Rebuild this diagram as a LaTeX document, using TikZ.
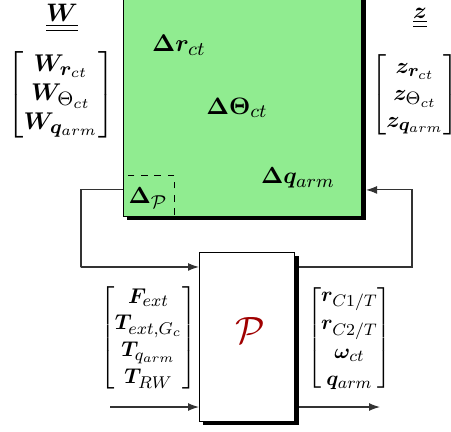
\documentclass[tikz,border=0pt]{standalone}
\usepackage{amsmath}
\usepackage{bm}
\usepackage{graphicx}
\DeclareMathSizes{10}{10}{7.6}{5.6}
\usetikzlibrary{arrows.meta,shadows}
\definecolor{boxgreen}{RGB}{144,236,144}
\definecolor{pred}{RGB}{160,0,0}
\begin{document}
\begin{tikzpicture}[x=0.4545pt,y=-0.4545pt,
  blk/.style={draw=black, line width=0.45pt, inner sep=0pt,
    drop shadow={shadow xshift=1.8pt, shadow yshift=-1.8pt, fill=black, opacity=1}},
  conn/.style={draw=black!80, line width=0.5pt},
  arr/.style={conn, -{Latex[length=5pt,width=3.6pt]}},
  lbl/.style={inner sep=0pt}]
\useasboundingbox (0,0) rectangle (451,431);
% blocks
\node[blk, fill=boxgreen, anchor=south west, minimum width=108.2pt, minimum height=104.5pt] (D) at (123,217) {};
\node[blk, fill=white, anchor=north west, minimum width=43.2pt, minimum height=76.8pt] (P) at (199,252) {};
% dashed Delta_P box
\node[draw=black, dashed, line width=0.45pt, inner sep=0pt, anchor=south west, minimum width=23.2pt, minimum height=18.6pt] (DP) at (123,217) {};
% texts in green block
\node[lbl] (t1) at (179,45) {\scalebox{1.1}{$\bm{\Delta}\bm{r}_{ct}$}};
\node[lbl] (t2) at (237,108) {\scalebox{1.08}{$\bm{\Delta}\bm{\Theta}_{ct}$}};
\node[lbl] (t3) at (298,178) {\scalebox{1.06}{$\bm{\Delta}\bm{q}_{arm}$}};
\node[lbl] (t4) at (148,198) {\scalebox{1.06}{$\bm{\Delta}_{\mathcal{P}}$}};
% P
\node[lbl, text=pred] (Pl) at (250,330) {\LARGE$\mathcal{P}$};
% W and z
\node[lbl] (Wl) at (62,18) {\scalebox{1.15}{$\underline{\underline{\bm{W}}}$}};
\node[lbl] (zl) at (420,18) {\scalebox{1.05}{$\underline{\underline{\bm{z}}}$}};
\node[lbl] (Wm) at (61,95) {\scalebox{1.1}{$\begin{bmatrix}\bm{W}_{\bm{r}_{ct}}\\ \bm{W}_{\Theta_{ct}}\\ \bm{W}_{\bm{q}_{arm}}\end{bmatrix}$}};
\node[lbl] (zm) at (415,95) {\scalebox{1.02}{$\begin{bmatrix}\bm{z}_{\bm{r}_{ct}}\\ \bm{z}_{\Theta_{ct}}\\ \bm{z}_{\bm{q}_{arm}}\end{bmatrix}$}};
% inputs / outputs
\node[lbl] (um) at (148.5,338) {\scalebox{0.97}{\renewcommand{\arraystretch}{1.05}$\begin{bmatrix}\bm{F}_{ext}\\ \bm{T}_{ext,G_c}\\ \bm{T}_{q_{arm}}\\ \bm{T}_{RW}\end{bmatrix}$}};
\node[lbl] (ym) at (349.5,338) {\scalebox{0.95}{\renewcommand{\arraystretch}{1.07}$\begin{bmatrix}\bm{r}_{C1/T}\\ \bm{r}_{C2/T}\\ \bm{\omega}_{ct}\\ \bm{q}_{arm}\end{bmatrix}$}};
% connectors
\coordinate (Dl) at ([yshift=12.3pt]D.south west);
\coordinate (Dr) at ([xshift=1.8pt,yshift=12.3pt]D.south east);
\coordinate (Pw) at ([yshift=-6.8pt]P.north west);
\coordinate (Pe) at ([xshift=1.8pt,yshift=-6.8pt]P.north east);
\coordinate (Pe2) at ([xshift=1.8pt]P.east);
\coordinate (in) at (110,407);
\coordinate (out) at (380,407);
\draw[arr] (Dl) -| (81,267) |- (Pw);
\draw[arr] (Pe) -| (412,190) |- (Dr);
\draw[arr] (in) -- (in -| P.west);
\draw[arr] (Pe2 |- out) -- (out);
\end{tikzpicture}
\end{document}
